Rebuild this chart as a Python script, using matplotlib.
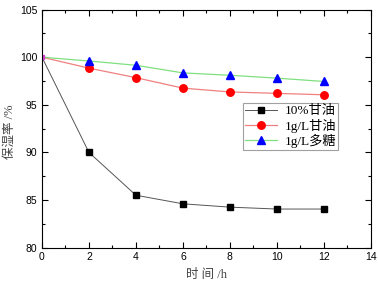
import matplotlib
matplotlib.use('Agg')
import matplotlib.pyplot as plt
from matplotlib.ticker import MultipleLocator

# Data
hours = [0, 2, 4, 6, 8, 10, 12]
glycerol_10pct = [100, 90.0, 85.5, 84.6, 84.25, 84.05, 84.05]
glycerol_1gL = [100, 98.85, 97.85, 96.75, 96.35, 96.2, 96.05]
polysaccharide_1gL = [100, 99.6, 99.15, 98.35, 98.1, 97.8, 97.45]

labels = ['10%甘油', '1g/L甘油', '1g/L多糖']

fig = plt.figure(figsize=(3.78, 2.82), dpi=100)
ax = fig.add_axes([0.111, 0.122, 0.870, 0.844])

ax.plot(hours, glycerol_10pct, '-', color='#555555', lw=0.7, marker='s', ms=4.6,
        mfc='black', mec='black', markevery=slice(1, None), label=labels[0])
ax.plot(hours, glycerol_1gL, '-', color='#f08080', lw=0.9, marker='o', ms=5.4,
        mfc='red', mec='red', markevery=slice(1, None), label=labels[1])
ax.plot(hours, polysaccharide_1gL, '-', color='#80e080', lw=0.9, marker='^', ms=5.6,
        mfc='blue', mec='blue', markevery=slice(1, None), label=labels[2])
# small overlapping markers at t=0
ax.plot([hours[0]], [glycerol_10pct[0]], 's', ms=3, color='#d040d0')

ax.set_xlim(0, 14)
ax.set_ylim(80, 105)
ax.xaxis.set_major_locator(MultipleLocator(2))
ax.xaxis.set_minor_locator(MultipleLocator(1))
ax.yaxis.set_major_locator(MultipleLocator(5))
ax.yaxis.set_minor_locator(MultipleLocator(2.5))
ax.tick_params(which='both', direction='in', top=True, right=True, labelsize=7.5)
ax.tick_params(which='major', length=4, width=0.8)
ax.tick_params(which='minor', length=2, width=0.8)
for lbl in ax.get_xticklabels() + ax.get_yticklabels():
    lbl.set_family('Liberation Sans')

cjk = ['Liberation Serif', 'Noto Sans CJK SC']
ax.set_xlabel('时 间 /h', family=cjk, fontsize=9, labelpad=5, color='#444444')
ax.set_ylabel('保湿率 /%', family=cjk, fontsize=9, color='#444444')
ax.yaxis.set_label_coords(-0.08, 0.485)

leg = ax.legend(loc='upper left', bbox_to_anchor=(0.611, 0.607), prop={'family': cjk, 'size': 9.5},
                frameon=True, fancybox=False, edgecolor='#888888', handlelength=2.4,
                handletextpad=0.6, borderpad=0.15, labelspacing=0.1, borderaxespad=0)
leg.get_frame().set_linewidth(0.8)

fig.savefig('out.png', dpi=100)
